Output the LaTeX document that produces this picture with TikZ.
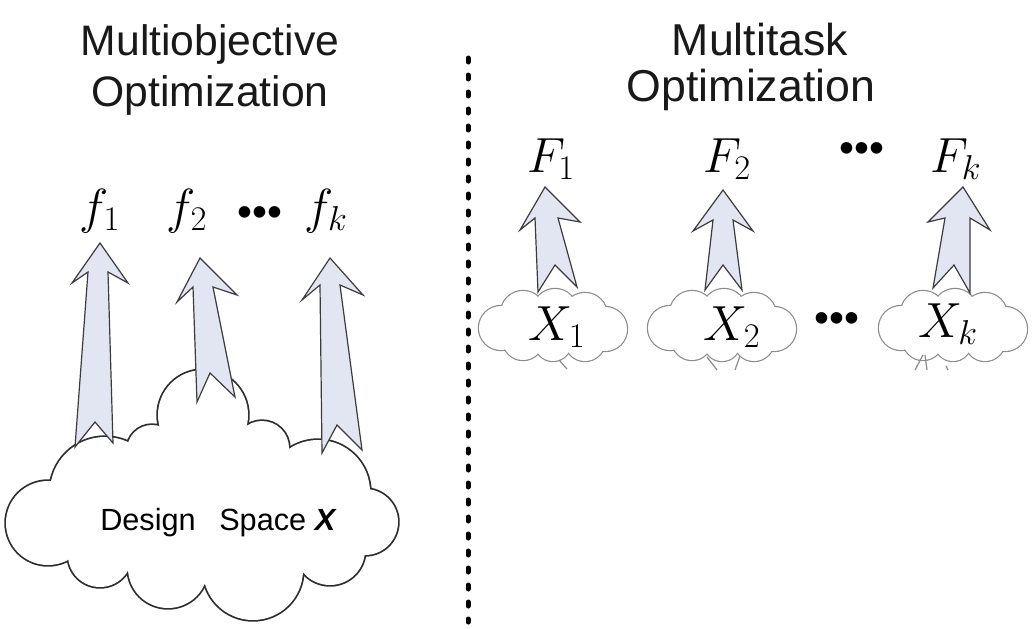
\RequirePackage{fix-cm}
\documentclass[tikz,border=0pt]{standalone}
\usepackage{fontspec}
\setmainfont{Liberation Sans}
\definecolor{arrowfill}{RGB}{226,229,242}
\definecolor{arrowline}{RGB}{60,60,60}
\definecolor{cloudline}{RGB}{45,45,45}
\definecolor{smallcloudline}{RGB}{140,140,140}
\def\bigcloudlobes{48/523/42, 105/492/55, 152/450/25, 203/415/45, 262/448/27, 318/492/52, 365/522/33, 330/550/35, 253/570/50, 168/568/40, 100/555/32}
\def\smalllobes{-52/3/22, -30/-12/22, 2/-14/22, 32/-10/22, 52/4/22, 32/16/20, 0/18/18, -30/15/20}
\begin{document}
\begin{tikzpicture}[x=0.75pt,y=-0.75pt,
  title/.style={font=\fontsize{32}{38}\selectfont, text=black!90, inner sep=0pt, anchor=base},
  titleb/.style={font=\fontsize{33.5}{40}\selectfont, text=black!90, inner sep=0pt, anchor=base},
  mathlbl/.style={font=\fontsize{37}{44}\selectfont, inner sep=0pt, anchor=base},
  dotslbl/.style={font=\fontsize{32}{40}\selectfont, inner sep=0pt},
  designlbl/.style={font=\fontsize{23}{28}\selectfont, inner sep=0pt, anchor=base},
  blockarrow/.style={fill=arrowfill, draw=arrowline, line width=0.9pt, line join=miter},
  cloudedge/.style={draw=cloudline, line width=2.6pt},
  smalledge/.style={draw=smallcloudline, line width=1.8pt},
  fragment/.style={draw=smallcloudline, line width=0.9pt},
  divider/.style={line width=3.75pt, dash pattern=on 3pt off 9.75pt, line cap=round},
  smallcloud/.pic={
    \foreach \cx/\cy/\cr in \smalllobes {\draw[smalledge] (\cx,\cy) circle[radius=\cr];}
    \foreach \cx/\cy/\cr in \smalllobes {\fill[white] (\cx,\cy) circle[radius=\cr];}
    \fill[white] (-52,3) -- (-30,-12) -- (2,-14) -- (32,-10) -- (52,4) -- (32,16) -- (0,18) -- (-30,15) -- cycle;
  }
]
\useasboundingbox (0,0) rectangle (1034,628);
\fill[white] (0,0) rectangle (1034,628);

% titles
\node[title] (t1a) at (210,55) {Multiobjective};
\node[title] (t1b) at (210,106) {Optimization};
\node[titleb] (t2a) at (760,55) {Multitask};
\node[titleb] (t2b) at (751,101) {Optimization};

% divider
\coordinate (d1) at (468,58);
\coordinate (d2) at (468,622);
\draw[divider] (d1) -- (d2);

% big cloud
\foreach \cx/\cy/\cr in \bigcloudlobes {\draw[cloudedge] (\cx,\cy) circle[radius=\cr];}
\foreach \cx/\cy/\cr in \bigcloudlobes {\fill[white] (\cx,\cy) circle[radius=\cr];}
\fill[white] (48,523) -- (105,492) -- (152,450) -- (203,415) -- (262,448) -- (318,492) -- (365,522) -- (330,550) -- (253,570) -- (168,568) -- (100,555) -- cycle;

% left arrows
\draw[blockarrow] (100,243) -- (128,283) -- (108,272) -- (113,443) -- (95,422) -- (75,447) -- (88,272) -- (72,283) -- cycle;
\draw[blockarrow] (200,258) -- (237,295) -- (213,287) -- (235,397) -- (210,373) -- (197,402) -- (193,287) -- (177,302) -- cycle;
\draw[blockarrow] (330,258) -- (363,295) -- (340,285) -- (362,450) -- (337,425) -- (322,453) -- (320,285) -- (302,300) -- cycle;

\node[designlbl] (ds1) at (148,530) {Design};
\node[designlbl] (ds2) at (278,530) {Space \textbf{\textit{X}}};

\node[mathlbl] (f1) at (100,223) {$f_1$};
\node[mathlbl] (f2) at (187,223) {$f_2$};
\node[dotslbl] (fd) at (260,217) {•••};
\node[mathlbl] (fk) at (326,223) {$f_k$};

% small clouds
\pic (c1) at (553,325) {smallcloud};
\pic (c2) at (722,325) {smallcloud};
\pic (c3) at (953,325) {smallcloud};

% fragments below small clouds
\draw[fragment] (559,360) -- (567,369);
\draw[fragment] (707,357) -- (717,370);
\draw[fragment] (740,356) -- (735,370);
\draw[fragment] (923,355) -- (915,370);
\draw[fragment] (925,355) -- (927,370);
\draw[fragment] (946,366) -- (948,370);

% right arrows
\draw[blockarrow] (545,187) -- (580,222) -- (558,218) -- (577,287) -- (555,265) -- (538,292) -- (535,218) -- (520,230) -- cycle;
\draw[blockarrow] (723,190) -- (753,231) -- (733,220) -- (742,290) -- (723,265) -- (705,290) -- (713,220) -- (693,231) -- cycle;
\draw[blockarrow] (963,187) -- (990,230) -- (970,218) -- (970,293) -- (954,265) -- (933,288) -- (945,218) -- (928,222) -- cycle;

\node[mathlbl] (F1) at (551,172) {$F_1$};
\node[mathlbl] (F2) at (727,172) {$F_2$};
\node[dotslbl] (Fd) at (862,153) {•••};
\node[mathlbl] (Fk) at (956,172) {$F_k$};

\node[mathlbl] (X1) at (557,340) {$X_1$};
\node[mathlbl] (X2) at (732,340) {$X_2$};
\node[dotslbl] (Xd) at (837,323) {•••};
\node[mathlbl] (Xk) at (948,337) {$X_k$};
\end{tikzpicture}
\end{document}
